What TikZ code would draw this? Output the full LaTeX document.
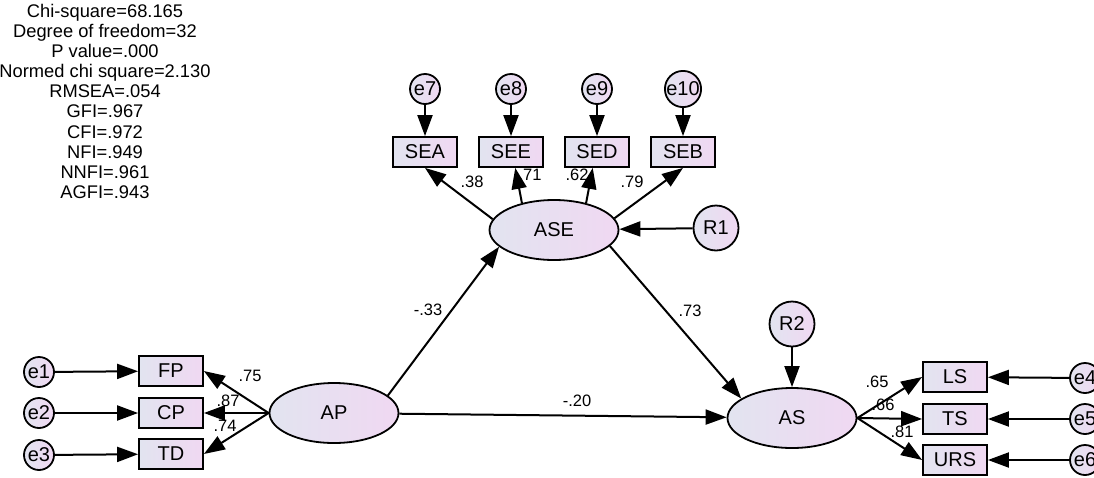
\documentclass[tikz,border=0pt]{standalone}
\usepackage{fontspec}
\setmainfont{Liberation Sans}
\usetikzlibrary{arrows.meta,shapes.geometric}
\definecolor{fillL}{RGB}{226,228,240}
\definecolor{fillR}{RGB}{240,216,242}
\tikzset{
  base/.style={draw=black, line width=1.8pt, left color=fillL, right color=fillR, inner sep=0pt},
  obs/.style={base, rectangle, minimum width=64pt, minimum height=30pt, font=\fontsize{20}{20}\selectfont},
  lat/.style={base, ellipse, minimum width=129pt, minimum height=60pt, font=\fontsize{20}{20}\selectfont},
  err/.style={base, circle, minimum size=30pt, font=\fontsize{20}{20}\selectfont},
  res/.style={base, circle, minimum size=45pt, font=\fontsize{20}{20}\selectfont},
  coef/.style={font=\fontsize{16.5}{16.5}\selectfont, inner sep=0pt},
  arr/.style={draw=black, line width=2pt, -{Triangle[length=21pt,width=15pt]}},
  stats/.style={font=\fontsize{18.3}{20.1}\selectfont, align=center, inner sep=0pt}
}
\begin{document}
\begin{tikzpicture}[x=1pt,y=-1pt]
\useasboundingbox (0,0) rectangle (1094,477);
% fit statistics
\node[stats, anchor=north] (fit) at (105,4) {Chi-square=68.165\\Degree of freedom=32\\P value=.000\\Normed chi square=2.130\\RMSEA=.054\\GFI=.967\\CFI=.972\\NFI=.949\\NNFI=.961\\AGFI=.943};
% latent variables
\node[lat] (ASE) at (554,230) {ASE};
\node[lat] (AP) at (334,413) {AP};
\node[lat] (AS) at (792,418) {AS};
\node[res] (R1) at (716,228) {R1};
\node[res] (R2) at (792,324) {R2};
% top indicators
\node[obs] (SEA) at (425,152) {SEA};
\node[obs] (SEE) at (511,152) {SEE};
\node[obs] (SED) at (597,152) {SED};
\node[obs] (SEB) at (683,152) {SEB};
\node[err] (e7) at (425,89) {e7};
\node[err] (e8) at (511,89) {e8};
\node[err] (e9) at (597,89) {e9};
\node[err] (e10) at (683,89) {e10};
% left indicators
\node[obs] (FP) at (171,371) {FP};
\node[obs] (CP) at (171,413) {CP};
\node[obs] (TD) at (171,454) {TD};
\node[err] (e1) at (39,372) {e1};
\node[err] (e2) at (39,413) {e2};
\node[err] (e3) at (39,455) {e3};
% right indicators
\node[obs] (LS) at (955,377) {LS};
\node[obs] (TS) at (955,419) {TS};
\node[obs] (URS) at (955,460) {URS};
\node[err] (e4) at (1085,378) {e4};
\node[err] (e5) at (1085,419) {e5};
\node[err] (e6) at (1085,460) {e6};
% arrows
\draw[arr] (e7) -- (SEA);
\draw[arr] (e8) -- (SEE);
\draw[arr] (e9) -- (SED);
\draw[arr] (e10) -- (SEB);
\draw[arr] (ASE.170) -- (SEA.south);
\draw[arr] (ASE.140) -- (SEE.285);
\draw[arr] (ASE.40) -- (SED.255);
\draw[arr] (ASE.11) -- (SEB.south);
\draw[arr] (R1) -- (ASE);
\draw[arr] (R2) -- (AS);
\draw[arr] (e1) -- (FP);
\draw[arr] (e2) -- (CP);
\draw[arr] (e3) -- (TD);
\draw[arr] (AP.west) -- (FP.east);
\draw[arr] (AP.west) -- (CP.east);
\draw[arr] (AP.west) -- (TD.east);
\draw[arr] (e4) -- (LS);
\draw[arr] (e5) -- (TS);
\draw[arr] (e6) -- (URS);
\draw[arr] (AS.east) -- (LS.west);
\draw[arr] (AS.east) -- (TS.west);
\draw[arr] (AS.east) -- (URS.west);
\draw[arr] (AP.18) -- (ASE.197);
\draw[arr] (ASE.344) -- (AS.159);
\draw[arr] (AP) -- (AS);
% coefficients
\node[coef] (c38) at (472,182) {.38};
\node[coef] (c71) at (530,175) {.71};
\node[coef] (c62) at (577,175) {.62};
\node[coef] (c79) at (632,182) {.79};
\node[coef] (c75) at (250,376) {.75};
\node[coef] (c87) at (228,401) {.87};
\node[coef] (c74) at (225,426) {.74};
\node[coef] (c65) at (877,382) {.65};
\node[coef] (c66) at (883,405) {.66};
\node[coef] (c81) at (902,432) {.81};
\node[coef] (c33) at (428,310) {-.33};
\node[coef] (c73) at (690,311) {.73};
\node[coef] (c20) at (577,401) {-.20};
\end{tikzpicture}
\end{document}
